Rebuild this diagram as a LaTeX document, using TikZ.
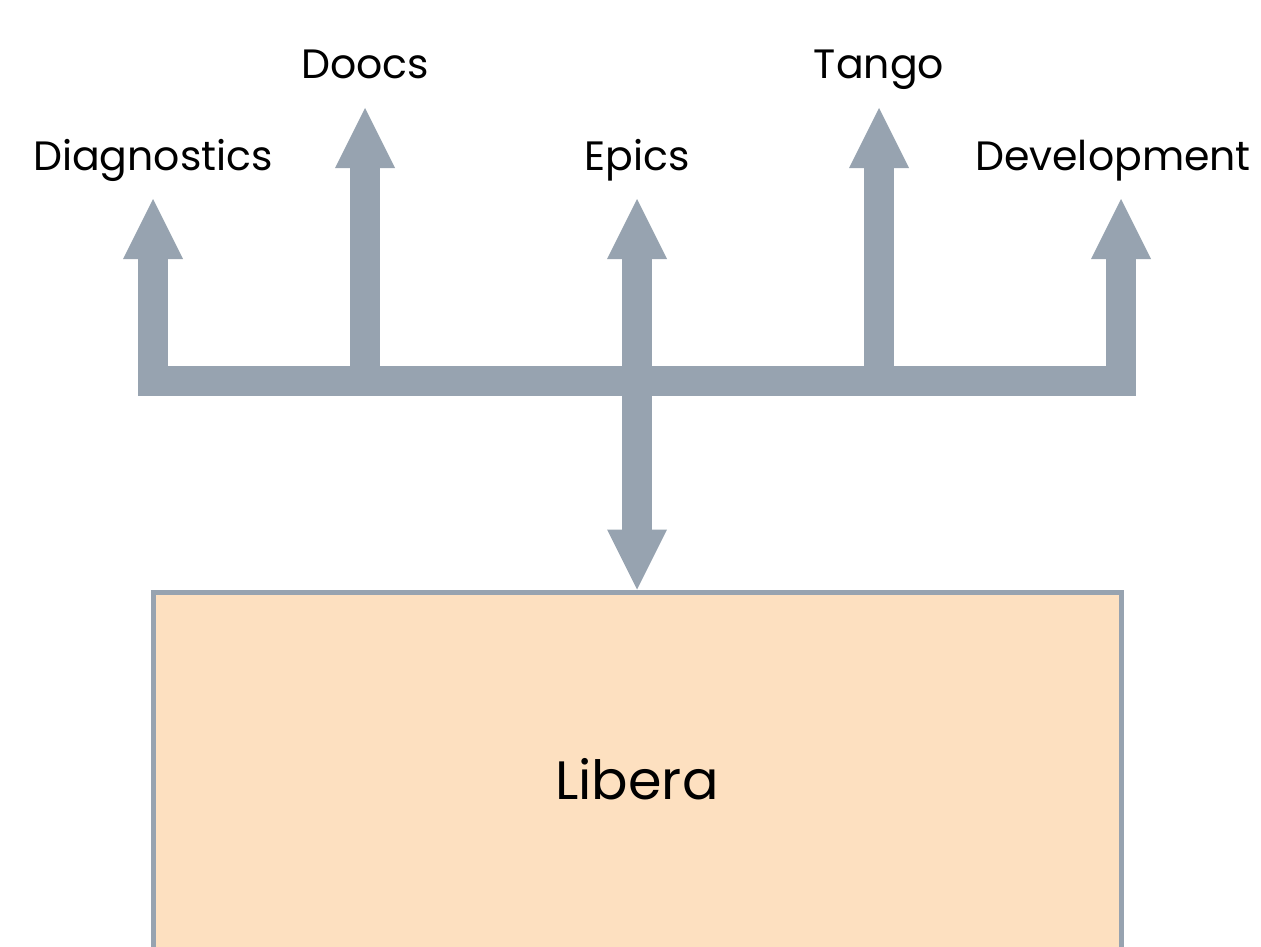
\documentclass[tikz,border=0pt]{standalone}
\usepackage{fontspec}
\setmainfont{Poppins}
\usetikzlibrary{arrows.meta}
\definecolor{flowgray}{HTML}{97A3B0}
\definecolor{boxfill}{HTML}{FDE0C0}
\tikzset{
  flow/.style={draw=flowgray, line width=30pt, line cap=butt,
    -{Triangle[width=60pt,length=60pt,line width=0pt]}},
  label/.style={anchor=base, font=\fontsize{41}{44}\selectfont, inner sep=0pt},
}
\begin{document}
\begin{tikzpicture}[x=1pt, y=-1pt]
  \useasboundingbox (0,0) rectangle (1261,947);
  % main unit
  \node[draw=flowgray, fill=boxfill, line width=5pt, minimum width=968pt,
        minimum height=380pt, anchor=north west, inner sep=0pt] (libera) at (150.5,589.5) {};
  \node[anchor=base, font=\fontsize{54}{58}\selectfont, inner sep=0pt] (liberatext) at (637,799) {Libera};
  % labels
  \node[label] (diag) at (153,171) {Diagnostics};
  \node[label] (doocs) at (365,79) {Doocs};
  \node[label] (epics) at (637,171) {Epics};
  \node[label] (tango) at (879,79) {Tango};
  \node[label] (dev) at (1113,171) {Development};
  % bus and branch points
  \coordinate (busL) at (138,380.5);
  \coordinate (busR) at (1136,380.5);
  \coordinate (bDiag) at (153,380.5);
  \coordinate (bDoocs) at (365,380.5);
  \coordinate (bEpics) at (637,380.5);
  \coordinate (bTango) at (879,380.5);
  \coordinate (bDev) at (1121,380.5);
  \draw[flowgray, line width=30pt] (busL) -- (busR);
  \draw[flow] (bDiag) -- (153,199);
  \draw[flow] (bDoocs) -- (365,108);
  \draw[flow] (bEpics) -- (637,199);
  \draw[flow] (bTango) -- (879,108);
  \draw[flow] (bDev) -- (1121,199);
  \draw[flow] (bEpics) -- (libera.north);
\end{tikzpicture}
\end{document}
